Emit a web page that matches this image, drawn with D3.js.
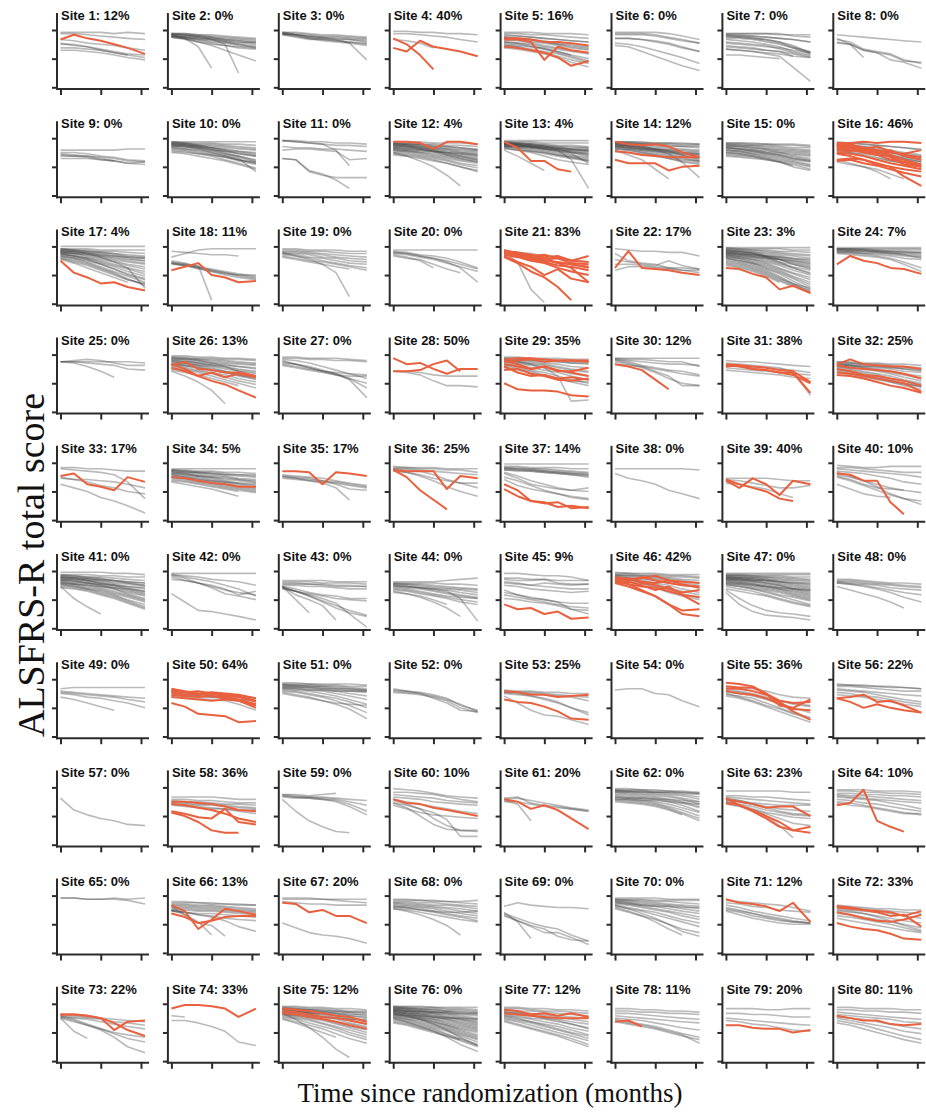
<!DOCTYPE html>
<html><head><meta charset="utf-8">
<script src="https://cdn.jsdelivr.net/npm/d3@7"></script>
<style>body{margin:0;background:#fff}svg{display:block}</style>
</head><body>
<svg id="chart" width="926" height="1119"></svg>
<script>
// ---- data ----
const months = [0, 2, 4, 6, 8, 10, 12.6];
const xTicks = [0, 6, 12];
const yTicks = [0, 24, 48];
const siteIds = [1,2,3,4,5,6,7,8,9,10,11,12,13,14,15,16,17,18,19,20,21,22,23,24,25,26,27,28,29,30,31,32,33,34,35,36,37,38,39,40,41,42,43,44,45,46,47,48,49,50,51,52,53,54,55,56,57,58,59,60,61,62,63,64,65,66,67,68,69,70,71,72,73,74,75,76,77,78,79,80];
const redPct = [12,0,0,40,16,0,0,0, 0,0,0,4,4,12,0,46, 4,11,0,0,83,17,3,7, 0,13,0,50,35,12,38,25, 17,5,17,25,14,0,40,10, 0,0,0,0,9,42,0,0, 0,64,0,0,25,0,36,22, 0,36,0,10,20,0,23,10, 0,13,20,0,0,0,12,33, 22,33,12,0,12,11,20,11];
// one string per site: trajectories separated by "|", "*" = red (treated) patient, values at the months above
const trajectories = [
"*40 44 41 39 36 33 28|46 46 46 46 45 46 45|45 45 44 43 42 41 40|40 39 37 36 35 33 31|36 36 34 32 30 28 27|33 33 32 31 29 27 25|31 31 30 29 27 25 23|37 35 34 31 29 27",
"45 45 44 43 42 41 40|45 44 43 42 41 40 39|44 43 43 42 40 39 38|44 44 43 41 40 39 37|43 42 41 40 39 38 36|43 42 40 39 38 36 35|42 41 40 38 37 35 34|44 43 42 41 39 37 38|45 44 42 40 38 36 33|43 41 38 35 31 27 22|44 41 34 16|43 42 41 40 36 12|42 41 39 37 35 33 32|45 45 44 44 43 42 41|42 40 38 36 35 34 33",
"46 46 45 44 44 43 42|46 45 44 43 43 42 41|45 44 43 42 42 41 40|45 44 42 41 40 40 39|46 44 42 41 41 40 38|44 43 41 40 39 38 37|45 43 41 39 38 37 35|45 44 43 42 40 37 23|44 42 40 40 39 38 36",
"*41 36 27 15|*33 30 39 34 32 30 26|47 47 46 46 45 45 44|45 45 44 43 42 40 38|40 39 37 33",
"*41 41 40 38 38 37 35|*40 40 38 23 34 31 29|*34 33 31 29 25 18 22|46 46 46 45 45 45 44|45 45 44 44 43 42 41|43 43 42 41 40 39 38|42 41 40 39 37 36 34|40 40 38 37 35 33 31|38 37 36 34 32 30 28|36 35 34 33 30 27 24|35 34 31 29 26 23 20|33 32 30 28 25 21 17|38 37 35 32 29 26 22|41 40 39 38 36 35 33|44 43 42 41 40 39 38|37 36 34 32 30 27|35 34 32 30 28 25 21|42 41 40 38 36 34 32|39 39 37 35 33 31 29",
"46 46 46 46 45 43 40|45 45 45 44 42 40 37|44 44 44 43 41 39 37|41 41 40 38 36 33 30|37 36 34 31 28 25 20|35 34 30 26 22 18 14|41 41 40 39 37 34 30",
"45 45 45 45 45 43 42|45 45 45 45 44 44 44|43 43 43 42 41 40 38|42 42 41 40 38 35 29|44 43 42 40 38 34 29|41 41 40 38 36 33 28|40 39 38 36 34 30 27|38 37 36 35 32 29 26|37 36 35 34 33 31 29|35 34 33 31 30 28 25|34 33 32 31 30 26 25|32 31 30 29 28 26|27 27 26 25 24|32 31 30 28 26 17 5|43 42 41 39 37 33 30|44 44 43 42 41 40 38",
"44 43 42 41 40 39 38|41 36 31 29 23 21 16|38 36 25|37 36 31 29 27 22 21|40 38 32 30 28 23 20",
"38 38 38 38 38 39 39|36 36 35 33 32 30 29|34 33 33 32 31 29 28|31 31 31 30 29 27 26|35 34 33 31 29|33 33 32 30 29 27 28",
"45 45 45 45 45 45 45|45 44 44 44 43 43 42|44 44 43 43 42 41 40|44 43 42 42 41 40 39|43 43 42 41 40 39 38|43 42 41 40 39 37 36|42 42 41 40 38 37 35|42 41 40 38 37 35 33|41 41 40 39 37 36 34|41 40 39 37 35 33 30|40 39 37 35 33 30 27|39 38 36 34 32 29 26|44 43 41 39 36 33 29|38 37 35 33 30 27 23|36 35 33 31 29 26 22|43 42 40 38 35 32 28|40 39 38 36 34 31 20|45 44 42 40 38 35 33|37 36 35 34 32 30 27|42 41 39 36 33 30 28",
"46 46 45 45 44 44 43|46 45 44 43 42 42 41|46 45 44 43 38 25|38 39 39 38 37 30 31|31 30 20 17 15 15 15|31 30 21 18 13 6|41 40 40 39 39 38 37",
"*45 45 44 39 45 45 43|45 45 45 44 44 44 43|44 44 43 43 42 42 41|44 43 43 42 41 40 39|43 43 42 41 40 39 38|43 42 41 40 39 38 37|42 42 41 40 39 37 36|42 41 40 39 38 36 35|41 41 40 39 37 36 34|41 40 39 38 36 35 33|40 40 39 37 36 34 32|40 39 38 37 35 33 31|39 38 37 36 34 32 30|39 38 36 35 33 31 29|38 37 36 34 32 30 28|38 37 35 33 31 29 27|37 36 34 32 30 27 25|36 35 33 31 29 26 23|35 34 32 30 27 24 20|36 33 29 24 17 8|34 33 31 29 27 24 21|43 42 40 38 35 33 30|42 41 39 37 34 31 28|44 43 42 41 41 40 38|40 39 38 37 36 35 34",
"*45 40 29 29 22 20|46 46 46 46 46 46 46|45 45 45 44 44 44 44|45 44 44 43 42 42 41|44 44 43 42 41 40 40|44 43 42 41 40 39 38|44 43 42 41 39 38 37|43 42 41 40 39 37 36|43 42 41 39 38 36 35|42 41 40 39 37 36 34|42 41 40 38 36 34 32|41 40 39 37 35 33 31|41 40 38 36 34 32 30|40 39 37 35 33 31 29|45 44 43 41 39 36 33|44 43 41 39 37 35 27|40 38 36 33 30 28 26|38 33 27 21|43 42 41 40 38 30 6|42 41 41 40 39 38 38|43 43 42 41 40 39 39|39 38 37 36 34 32 29|41 41 40 39 38 37 35|44 43 43 42 41 41 40|42 42 41 40 40 39 37",
"*45 43 42 43 41 36 32|*30 27 27 27 21 24 25|*37 36 34 33 32 32 32|45 45 45 44 44 44 43|45 44 44 43 43 42 42|44 44 43 42 41 41 40|44 43 42 41 40 39 38|43 42 41 40 39 38 37|43 42 41 39 38 36 35|42 41 40 38 37 35 34|42 41 39 38 36 34 32|41 40 39 37 35 33 31|41 40 38 36 34 32 29|40 39 37 35 33 31 28|44 43 41 39 37 34 30|39 38 36 34 31 28 26|43 42 40 38 35 28 15|38 34 30 22 14|42 41 40 39 37 36 35|40 39 38 37 36 35 34|37 36 35 33 31 29 27|44 44 43 43 42 41 41|45 45 44 44 44 43 43|41 40 39 39 38 37 36|39 38 36 34 32 30 29",
"44 44 44 43 43 43 42|44 44 43 43 42 42 41|43 43 42 42 41 40 40|43 42 42 41 40 39 38|42 42 41 40 39 38 37|42 41 40 39 38 37 36|41 41 40 39 37 36 35|41 40 39 38 36 35 34|40 39 38 37 36 34 33|40 39 38 36 35 33 31|39 38 37 35 34 32 30|38 37 36 35 33 31 29|38 37 35 34 32 30 28|37 36 35 33 31 29 26|36 35 34 32 30 28 25|35 34 33 31 29 27 24|34 33 32 30 28 26 22|33 32 31 30 28 25|36 35 33 31 28 24 21|40 39 37 36 34 31 29",
"*44 44 45 44 45 45 44|*42 43 40 38 36 35 38|*40 38 36 34 30 28 24|*38 40 37 35 33 28 26|*36 35 33 30 27 25 22|*35 33 30 27 24 16 8|*42 40 38 38 34 30 26|*30 31 30 26 24 22 20|*40 42 37 38 32 26 24|*38 37 40 36 38 33 30|*43 41 39 41 37 34 32|*29 30 27 25 22 19 16|44 44 43 42 41 40 39|43 42 41 40 38 36 34|42 41 40 38 36 34 32|41 40 39 37 35 33 30|40 39 37 35 33 31 29|39 38 36 34 32 30 28|38 36 34 32 29 27|30 27 24 20 14|28 26 24 22 18 14|45 44 43 42 41 40 38|43 42 41 39 37 35 33|41 40 38 36 34 31 28|37 36 35 34 33 32 31|36 35 33 31 29 27 25",
"*36 26 22 17 18 14 11|48 48 48 48 48 48 48|46 46 46 45 45 45 45|46 45 45 44 44 43 42|45 45 44 43 42 41 40|45 44 43 42 41 39 38|44 44 43 41 40 38 36|44 43 42 40 38 36 34|43 42 41 39 37 35 33|43 42 40 38 36 33 31|42 41 39 37 35 32 29|42 40 38 36 33 30 27|41 40 38 35 32 29 25|41 39 37 34 31 27 23|40 38 36 33 29 25 21|40 38 35 31 27 23 18|39 37 34 30 26 21 15|45 44 42 39 35 30 13|38 35 32 28 24 20 17|37 34 30 26 22 18|44 43 42 41 40 39 38|43 42 41 40 39 37 36|46 45 44 43 42 40 39|38 36 33 29 25 20 16|42 40 37 33 29 24 20",
"*28 31 34 24 22 18 19|39 42 45 46 46 46 46|44 43 42 41 41 40|35 33 30 27 25 24 24|34 32 30 28 26 24 22|33 32 29 27 24 22 20|34 32 31 28 26 23 21|34 33 32 3|36 34 31 29 27 25 23",
"46 46 45 45 45 44 44|45 45 44 44 43 42 42|44 44 43 42 41 40 39|43 43 42 41 39 38 37|42 42 41 39 38 36 35|42 41 39 38 36 34 33|41 40 38 36 34 32 30|40 38 36 35 33 31 28|43 40 37 33 26 6|39 37 35 33 31 29",
"45 45 45 45 45 45 45|44 43 41 40 38 35 30|43 42 40 38 36 33 29|42 41 39 37 34 31 27|41 39 36 30|40 38 37 33 29 26|43 42 40 38 35 30 18",
"*44 42 40 41 38 36 40|*43 41 38 36 35 33 31|*42 40 37 35 32 31 28|*41 39 36 34 30 27 24|*39 34 27 22 14 3|*40 35 31 24 29 21 18|*43 40 41 37 38 34 33|*44 43 41 39 40 36 35|*41 40 38 37 34 33 30|*45 42 39 38 34 30 18|43 35 12 1|44 43 42 40 39 37 35",
"*30 44 30 29 28 26 24|46 45 44 44 43 43 40|42 36 34 33 30 30 29|37 35 33 32 36 32 29|33 33 32 31 30 28 26|28 31 31 30 29 28 28",
"*30 29 25 22 12 15 9|47 47 47 47 47 47 47|47 46 46 46 46 45 45|46 46 45 45 44 44 43|46 45 45 44 43 42 41|45 45 44 43 42 41 40|45 44 43 42 41 40 38|44 44 43 41 40 38 36|44 43 42 40 39 37 35|43 42 41 40 38 36 33|43 42 40 39 37 34 31|42 41 40 38 35 33 30|42 41 39 37 34 31 28|41 40 38 36 33 30 26|41 39 37 35 32 28 24|40 39 37 34 30 26 22|40 38 36 33 29 25 20|39 38 35 32 28 23 18|39 37 34 31 27 22 16|38 36 34 30 26 21 14|38 36 33 29 25 19 12|37 35 32 28 23 17 10|36 34 31 27 22 16 11|35 33 30 26 21 17 13|34 32 29 25 20 15 9|33 31 28 24 19 14|32 30 27 23 18|44 43 42 40 37 33 29|43 42 41 39 37 35 32|42 41 41 40 39 38 37|41 40 39 38 37 36 34|45 44 42 39 35 30 25",
"*33 40 36 34 30 29 25|47 47 47 47 47 47 47|46 46 46 46 46 46 46|46 46 46 45 45 45 45|46 45 45 45 44 44 43|45 45 44 44 43 43 42|45 44 44 43 42 42 41|44 44 43 43 42 41 40|44 43 42 42 41 40 39|43 43 42 41 40 38 37|43 42 41 40 38 35 30|42 41 40 39 37 33 27|45 45 45 44 44 43 43|46 46 45 44 43 41 38",
"42 42 42 42 42 42 41|42 43 44 43 41 39 39|42 42 41 40 39 36 35|42 41 38 34 29",
"*39 42 36 35 33 33 30|*37 34 30 26 23 18 12|*40 36 30 33 29 32 29|47 47 46 46 45 45 44|46 46 45 45 44 44 43|45 45 44 44 43 42 41|44 44 43 42 41 40 39|43 42 42 41 40 38 36|42 41 40 39 38 36 34|41 40 39 38 36 34 32|40 39 38 36 34 32 30|39 38 37 35 33 30 28|38 37 35 33 31 28 25|37 36 34 32 29 26 23|36 35 33 30 27 24 20|35 33 31 28 25 22|34 30 25 18 7|45 44 43 41 38 34 30|44 43 41 39 37 35 33|43 42 41 40 39 38 37|42 41 39 37 34 31 27|46 45 44 43 42 41 40|40 39 37 35 33 31 29",
"46 46 45 45 45 44 43|45 45 44 44 43 43 42|43 40 37 34 31 30 30|41 40 37 34 33 32 31|42 40 38 35 32 27 12|40 38 36 34 32 28 20|39 37 35 33 31 28 24|44 43 41 38 35 32 28",
"*45 40 41 36 32 36 36|*34 34 35 40 43 34|34 34 33 31 30 30 30|34 33 31 26 22 22 21",
"*44 45 45 44 43 43 43|*42 43 44 42 43 43 42|*40 38 36 38 35 33 30|*38 33 30 31 28 29 27|*35 36 32 30 27 26 28|*24 19 18 18 17 14 13|*43 40 36 38 34 34 37|46 46 45 45 45 44 44|45 45 44 44 43 42 42|44 44 43 42 42 41 40|43 42 42 41 40 38 37|42 41 40 39 37 35 33|41 40 39 37 35 32 30|40 39 37 35 33 30 27|39 37 35 33 30 27 24|38 36 34 31 28 25 22|43 42 41 40 38 36 34|44 42 40 37 30 9 10|37 35 33 30 28 26 25|45 44 43 43 42 41 41",
"*40 38 35 27 19|45 45 45 45 45 45 45|45 44 44 43 42 42 38|44 43 42 41 40 40 39|44 42 39 37 35 34 31|43 41 38 34 30 22 22|42 40 37 33 28 24 22|40 39 38 36 34 32 30",
"*40 39 38 37 35 34 25|*39 38 36 35 33 33 16|*38 39 36 35 33 31 24|43 42 42 41 40 39 38|41 40 39 38 37 33 14|35 34 33 32 31 29 28|37 36 35 34 33 32 31|39 38 37 37 36 35 33",
"*40 44 40 39 38 38 36|*39 37 36 35 34 32 28|*36 34 31 30 28 26 22|*33 32 30 28 26 24 17|*31 30 28 25 22 20 16|42 42 41 41 40 40 39|41 41 40 40 39 38 37|41 40 39 38 37 36 35|40 39 38 37 36 34 33|40 39 37 36 34 32 30|39 38 37 35 33 31 28|38 37 36 34 32 29 26|38 36 34 32 30 27 24|37 35 33 31 28 26 23|36 34 32 29 27 24 21|35 33 31 28 25 22 19|34 32 30 28 26 24 22|39 39 38 38 37 37 36|42 41 40 39 38 36 34|33 31 29 27 25 23 21",
"*37 39 30 28 25 36 32|44 44 43 43 42 41 41|43 42 41 40 38 32 18|35 34 34 33 32 30 27|30 27 24 19 16 12 6|36 34 32 29 27 24 22",
"*36 35 33 31 30 28 28|43 43 43 43 43 43 43|42 42 41 41 40 40 39|42 41 40 40 39 38 37|41 40 40 39 38 37 36|41 40 39 38 37 35 34|40 39 38 37 36 34 32|40 39 37 36 34 33 31|39 38 37 35 33 31 29|38 37 36 34 32 30 28|38 36 35 33 31 29 27|37 36 34 32 30 28 26|36 35 33 31 29 27 25|35 34 32 30 28 26 24|34 33 31 29 27 25 23|33 32 30 28 26 24|32 30 28 26 23 20|42 41 40 39 38 38 38|39 38 37 36 35 34 33|36 35 34 33 32 31 30",
"*41 41 40 30 40 39 37|38 37 36 35 33 31 29|37 36 35 33 32 30 28|37 35 33 31 27 17|35 34 33 32 31 29 27|36 35 34 33 30 26 25",
"*42 41 41 41 26 37 35|*42 36 25 17 9|45 44 44 44 43 43 43|44 44 43 43 42 42 40|43 43 42 41 40 39 38|43 42 41 38 34 31 27|42 40 37 33 28 24 20|41 40 38 35 33 31 31",
"*30 25 16 15 11 12 10|*26 20 16 14 15 10 11|47 47 47 47 47 47 47|45 45 44 44 44 43 43|44 44 43 43 42 41 40|44 43 43 42 41 40 39|43 43 42 41 40 39 38|43 42 42 41 40 39 38|42 42 41 40 39 38 37|42 41 41 40 39 38 36|39 35 30 28 26 25 27|36 33 29 25 22 19 17|34 29 26 24 22 20 18|40 37 33 30 27 25 24",
"43 43 43 43 43 43 42|39 35 33 30 25 22 18",
"*33 27 35 30 21 33 30|*34 30 27 24 18 16|35 35 35 35 34 33 33|31 30 28 26 22 19|34 33 31 29 27 27 29",
"*39 38 33 33 15 5|46 45 44 44 45 45 45|44 44 43 42 41 40 40|43 42 41 40 39 38 36|41 40 39 37 35 32 30|40 37 33 28 22 18 13|37 34 30 27 26 25|30 26 22 20 19|38 36 33 30 27 25 23|36 33 29 25 21 18 16",
"47 47 47 47 46 46 45|45 45 45 44 44 43 43|44 44 43 43 42 41 40|43 43 42 41 40 39 38|43 42 41 40 39 38 36|42 42 41 40 38 37 35|42 41 40 39 37 35 33|41 41 40 38 36 34 31|41 40 39 37 35 32 29|40 39 38 36 34 31 28|39 38 37 35 33 30 27|39 37 36 34 31 28 24|38 37 35 33 30 27 23|37 36 34 32 29 26 22|37 35 33 31 28 24 20|36 35 33 30 27 23 18|35 34 32 29 26 22 17|34 33 31 28 25 21 16|40 39 38 37 36 35 34|38 37 36 35 34 33 31|35 25 18 12|43 42 40 38 36 33 30|44 43 42 41 40 39 38|45 44 43 42 40 38 36|41 40 38 36 33 29 25",
"46 46 46 46 46 46 46|45 44 43 41 40 39 36|45 43 41 39 36 33 27|43 40 38 36 33 28 31|44 42 38 35 32 30 28|29 22 15 14 12 10 7|41 40 38 34 29 27 24",
"40 40 40 40 39 39 39|39 39 39 38 38 38 37|38 38 37 37 36 36 35|37 37 37 36 35 35 35|36 36 35 35 34 33 33|35 33 30 28 27 25 25|35 31 27 23 19 15 11|35 24 13|34 31 27 22 17 13 10|35 28 24 19 7|34 31 28 25 21 12 1|33 31 29 27 25 24 23",
"39 39 39 39 40 41 42|38 38 38 38 37 37 36|38 37 37 36 35 34 33|37 37 36 35 34 33 32|37 36 35 34 33 32 30|36 35 34 33 32 30 28|35 35 34 32 30 28 26|35 34 33 31 29 27 25|34 33 31 29 27 26 25|33 32 30 28 26 24 22|32 31 29 27 25 22 20|31 29 26 22 17 10|30 29 27 24 20|36 35 34 33 31 25 6",
"*20 16 17 12 14 8 9|46 46 45 44 44 43 40|42 42 41 41 40 40 40|41 40 40 41 38 37 37|39 38 36 38 37 36 37|38 37 36 35 34 33 33|36 35 33 32 31 30 31|32 28 25 24 22 21 21|30 28 26 24 22 16 12|28 26 24 22 20 18 17|25 24 22 21 19 16 15",
"*42 41 42 44 40 39 38|*41 40 43 40 38 36 35|*40 42 38 36 33 30 32|*39 37 35 34 31 28 26|*38 39 36 32 35 28 20|*40 37 32 27 20 15 16|*43 41 39 38 40 37 34|*38 35 31 27 20 12 10|47 46 46 46 45 45 45|46 46 45 45 44 44 43|45 45 44 44 43 43 42|45 44 44 43 42 41 40|44 44 43 42 41 40 38|44 43 42 41 40 38 36|43 42 41 40 38 36 34|43 42 40 38 36 33 30|42 41 39 37 34 31 28|41 40 38 35 32 29 26|40 39 37 34 30 27 24",
"46 46 46 46 46 46 46|45 45 45 45 45 45 45|45 45 44 44 44 43 43|44 44 44 43 43 42 41|44 44 43 43 42 41 40|44 43 43 42 41 40 39|43 43 42 41 40 39 37|43 42 42 41 39 38 36|43 42 41 40 39 37 35|42 42 41 40 38 36 34|42 41 40 39 37 35 33|42 41 40 38 36 34 32|41 40 39 38 36 33 31|41 40 39 37 35 33 30|40 39 38 36 34 32 29|40 39 37 35 33 31 28|39 38 37 35 33 30 27|39 38 36 34 32 29 26|38 37 35 33 31 28 25|37 36 34 32 30 27 24|36 35 33 31 28 26 23|35 33 31 28 25 22 19|30 20 14 11 10 9 7|32 25 19 15 13 12 10|37 35 33 30 27 24 20|33 31 29 27 24 21 18|38 37 36 35 34 33 32|41 41 40 40 39 38 38",
"41 41 40 39 38 38 37|40 40 39 38 37 36 35|39 39 38 37 36 35 34|39 38 37 36 34 33 32|38 37 36 34 32 30 28|35 32 29 26 22 17|38 37 35 33 30 26 22",
"40 41 41 41 41 41 41|38 37 36 35 34 33 32|36 35 33 32 30 28 24|33 31 28 25 22|37 36 35 34 33 31 29",
"*40 38 36 37 36 35 32|*39 37 38 36 35 34 30|*38 37 35 36 34 33 29|*37 35 36 34 33 31 27|*35 34 33 34 32 30 26|*33 32 31 30 31 30 24|*28 25 19 18 17 12 13|37 36 35 35 34 33 32|36 35 34 33 32 31 30|34 33 32 31 30 27 22|35 34 34 33 32 31 30",
"45 45 44 44 44 44 43|44 44 44 43 43 42 42|44 43 43 42 42 41 40|43 43 42 42 41 40 39|43 42 42 41 40 39 38|42 42 41 40 39 38 37|42 41 40 39 38 36 34|41 40 39 38 36 34 31|40 39 38 36 34 31 27|39 38 36 34 32 29 24|38 37 35 33 30 26 20|37 35 33 30 27 23 15|36 34 32 30 28 27 26|40 40 39 39 38 38 38|41 41 41 40 40 40 39",
"40 38 36 32 28 22 21|39 38 37 35 32 26 22|38 37 36 34 31 27 21|37 36 35 33 30 24 20",
"*38 37 35 35 33 34 35|*31 29 28 25 21 15 14|39 38 38 37 37 36 36|38 37 37 36 35 34 33|37 37 36 35 34 33 30|36 35 34 32 29 24 18|34 28 22 18 17 14 10|37 36 34 31 28 24 20",
"39 40 40 36 35 30 25",
"*45 44 42 36 26 24 31|*42 41 41 36 30 28 29|*40 40 38 35 29 21 14|*38 36 35 32 27 23 22|41 40 40 38 35 33 32|39 38 36 33 30 28 26|37 36 34 31 28 24 20|35 34 32 28 24 20 16|36 33 30 26 23 19 15|34 32 29 25 21 17 12|38 37 35 32 30 27 25",
"*32 33 35 29 30 26 20|*32 29 24 27 24 22 20|44 43 43 42 42 41 40|43 43 42 42 41 41 40|42 42 41 40 39 38 38|40 39 38 37 36 35 34|39 38 37 35 33 31 29|37 36 34 33 31 29 27|35 34 33 31 29 27 25",
"39 29 25 22 20 17 16",
"*36 36 35 34 32 29 28|*34 33 31 29 26 22 19|*28 26 23 22 30 19 17|*27 24 19 12 10 10|40 40 40 40 39 38 38|38 38 37 37 36 35 35|37 36 36 35 34 34 33|36 35 34 34 33 32 31|35 34 33 33 32 31 30|33 32 31 30 30 29 29|34 33 32 31 30 28 26",
"42 42 41 42 43|42 41 40 40 39 38 37|41 40 40 39 38 36 33|41 40 39 38 37 34 28|40 39 39 38 36 32 25|38 28 20 15 11 10",
"*38 35 34 31 29 27 24|47 46 45 43 41 40 39|44 44 43 42 40 38 36|42 41 40 39 37 36 35|35 31 24 17 13 12 12|37 34 30 22 16 12 11|35 33 30 27 21 7 7|33 30 27 25 24 23 22|40 39 38 36 35 34 33|38 36 34 32 30 28 26",
"*38 36 30 33 29 22 13|39 40 35 33 32 30 28|38 39 37 35 33 31 29|37 34 20|36 36 34 32 31 30 28",
"47 47 46 46 45 45 44|46 46 46 45 45 44 43|46 45 45 44 44 43 42|45 45 44 44 43 42 40|45 44 44 43 42 41 38|44 44 43 42 41 39 36|44 43 42 41 40 38 34|43 42 41 40 38 36 32|42 41 40 39 37 35 31|41 40 39 38 36 33 28|40 39 38 36 34 31 27|39 38 37 35 32 29 24|38 37 36 34 31 27 22|37 36 35 33 30 26 20|36 35 34 32 29 25|40 39 39 38 38 37 36|38 38 37 37 36 35 34|45 45 45 44 44 44 43",
"*38 36 34 31 32 32 24|*35 33 28 22 15 12 15|*39 33 29 24 19 12 10|45 45 45 45 45 44 44|41 41 40 40 39 38 37|40 39 38 37 36 35 34|38 37 35 34 33 33 33|37 36 34 32 30 29 28|36 34 32 29 27 25 24|35 33 30 27 25 23 22|34 32 29 26 22 18 16|36 33 29 24 16 6|39 37 34 31 28 26 25",
"*33 35 46 20 15 11|46 46 46 45 45 45 44|45 45 44 44 43 43 42|43 43 42 42 41 41 40|42 41 41 40 39 38 37|41 40 39 38 37 36 35|40 39 38 37 35 33 30|38 37 35 34 32 30 28|36 35 33 31 29 27 25|35 33 32 30 28 26 26",
"46 46 45 45 46 45 46|46 46 45 45 45 44 41",
"*40 35 20 28 37 35 32|*33 30 25 27 30 31 31|43 43 42 42 41 41 40|42 42 42 41 41 40 40|41 41 40 40 39 38 37|40 40 39 39 38 37 36|39 39 38 38 37 36 35|38 38 37 37 36 35 34|37 37 36 36 35 34 33|36 36 35 35 34 33 32|35 34 33 33 32 31 30|39 32 25 23 14|36 34 32 30 27 22 18|36 32 26 15|35 34 32 31 29 28 27",
"*42 41 34 36 31 31 25|46 46 46 45 45 45 45|45 45 45 45 44 43 42|25 21 17 15 14 12 8|43 42 41 41 40 40 40",
"45 45 44 44 43 43 44|44 44 44 43 43 42 41|43 43 42 42 41 40 39|42 42 41 40 40 39 37|42 41 40 39 38 37 35|41 40 39 38 37 35 33|40 39 38 37 35 33 31|39 38 37 35 33 31 29|38 37 36 34 32 30 27|37 36 34 32 30 28 26|37 35 32 28 23 15|39 38 36 35 34 34 35",
"39 42 40 39 38 38 37|33 29 25 22 20 15 10|32 27 22 17 17 13 7|34 26 12|31 27 23 20 14 11 10",
"46 46 46 46 45 45 45|45 45 45 44 44 44 44|45 44 44 43 43 42 41|44 44 43 42 41 40 39|44 43 42 41 40 39 37|43 42 41 40 39 37 35|43 42 40 39 37 35 33|42 41 39 37 35 33 30|41 40 38 36 34 31 28|40 38 36 34 31 28 25|39 37 35 32 29 26 22|38 35 31 26 20 15|40 37 33 29 24 18 14|37 34 31 28 24 20 17|42 41 40 39 39 38 38",
"*45 42 41 39 35 42 26|44 43 42 41 40 38 35|42 41 39 38 36 35 34|40 38 35 33 31 29 27|37 35 33 30 28 26 25|35 32 29 27 25 24 24|38 36 33 31 29 27 25|36 34 31 29 27 26 25",
"*39 38 36 35 34 31 35|*38 37 36 34 31 32 22|*34 32 29 27 26 28 32|*25 22 20 19 16 12 11|40 39 38 37 37 36 36|39 38 37 36 35 34 33|37 36 35 34 33 31 29|35 34 33 31 29 27 25|33 32 30 28 26 24 21|31 30 28 26 24 21 18|29 27 25 23 21 19 17|36 35 33 30 27 23 19",
"*39 39 38 36 26 33 34|*39 39 38 36 32 26 21|39 38 37 36 35 34 33|38 37 36 35 33 32 30|37 36 35 33 31 29 27|36 33 30 27 24 22 20|38 35 31 27 23 19 16|36 25 19|37 34 30 26 20 12 7",
"*44 47 47 46 44 37 44|34 34 32 29 25 16 13|38 37",
"*44 43 42 40 38 37 33|*42 41 39 37 36 34 31|*40 39 37 35 33 30 27|46 46 45 45 44 44 43|45 45 44 44 43 42 42|45 44 43 43 42 41 40|44 44 43 42 41 40 38|44 43 42 41 40 38 36|43 42 41 40 38 36 34|43 42 40 39 37 35 33|42 41 40 38 36 34 31|42 40 39 37 35 32 29|41 40 38 36 33 31 28|40 39 37 35 32 29 26|40 38 36 34 31 28 24|39 37 35 32 29 26 22|38 36 34 31 28 24 20|37 35 32 29 26 22 18|36 33 30 27 23 19 15|40 35 28 20 10 3|35 32 28 24 20|44 43 43 42 42 41 41|41 41 40 40 39 38 37|39 38 38 37 36 35 35|43 42 41 41 40 39 39",
"46 46 46 45 45 45 45|46 45 45 45 44 44 43|45 45 44 44 43 43 42|45 44 44 43 42 42 41|45 44 43 43 42 41 40|44 44 43 42 41 40 39|44 43 42 41 40 39 38|44 43 42 41 40 38 36|43 42 41 40 39 37 35|43 42 41 40 38 36 34|43 42 40 39 37 35 33|42 41 40 38 37 35 32|42 41 39 38 36 34 31|42 40 39 37 35 33 30|41 40 38 37 35 32 29|41 40 38 36 34 31 28|41 39 37 35 33 30 27|40 39 37 35 32 29 26|40 38 36 34 31 28 25|39 38 36 33 30 27 24|39 37 35 33 30 26 22|38 37 35 32 29 25 21|38 36 34 31 28 24 20|37 35 33 30 27 23 19|37 35 32 29 26 22 18|36 34 31 28 25 21 16|35 33 30 27 23 19 14|34 32 29 26 22 18 13|33 31 28 25 21 17 12|36 33 29 25 20 14 8|40 38 35 31 26 20 13|32 30 27 24 21 18|43 42 42 41 41 40 40|39 38 38 37 36 36 35",
"*43 42 39 40 38 40 37|*40 39 38 37 36 36 36|45 45 44 44 43 43 42|44 44 43 42 42 41 40|43 42 42 41 40 39 38|42 41 40 39 38 37 36|41 40 39 38 37 35 33|40 39 38 36 35 33 31|39 38 36 35 33 31 28|38 37 35 33 31 28 25|37 35 33 31 29 26 22|36 34 32 29 26 23 19|35 33 30 27 24 21 17|34 31 28 25 22 19 14|33 30 27 24 21 17 12|38 36 33 30 27 24 21|41 40 38 36 34 31 27",
"*33 34 29|44 44 43 43 42 42 41|42 42 41 41 40 40 39|40 40 39 38 37 36 35|38 37 36 35 34 33 32|36 35 34 32 30 28 26|35 33 31 29 26 23 20|33 31 29 27 24 21 18|34 32 30 28 25 22 15",
"*30 30 28 27 27 24 26|44 44 44 43 43 44 44|40 40 39 39 38 37 37|36 35 34 33 32 31 30|34 33 31 30 28 26 25",
"*38 36 34 34 31 30 31|45 45 44 44 44 43 43|43 43 42 42 41 41 40|41 40 39 38 37 36 35|39 38 37 36 35 33 32|37 36 35 33 31 29 27|36 34 32 30 28 25 23|34 32 30 27 24 21 18|32 30 27 24 21 18 15"
];

// ---- drawing ----
const svg = d3.select("#chart");
const nCols = 8;
const colStep = 110.9, rowStep = 108.2;
const grayColor = "#4a4a4a", redColor = "#e9603e", axisColor = "#2b2b2b";

const panels = trajectories.map(s => s.split("|").map(str => {
  const red = str[0] === "*";
  const vals = (red ? str.slice(1) : str).trim().split(/\s+/).map(Number);
  return { red, pts: vals.map((v, j) => ({ t: months[j], v })) };
}));

panels.forEach((lines, i) => {
  const c = i % nCols, r = Math.floor(i / nCols);
  const ax = 57 + colStep * c;
  const top = 30 + rowStep * r;
  const x = d3.scaleLinear().domain([0, 12]).range([ax + 3.5, ax + 84]);
  const y = d3.scaleLinear().domain([0, 48]).range([top + 57.3, top]);
  const baseY = top + 59;
  const g = svg.append("g");

  // title
  g.append("text").attr("x", ax + 4).attr("y", top - 10)
    .attr("font-family", "'Liberation Sans', Arial, sans-serif")
    .attr("font-weight", "bold").attr("font-size", 13).attr("fill", "#111")
    .text(`Site ${siteIds[i]}: ${redPct[i]}%`);

  const line = d3.line().x(d => x(d.t)).y(d => y(d.v));
  const grays = lines.filter(l => !l.red), reds = lines.filter(l => l.red);
  g.selectAll("path.g").data(grays).enter().append("path")
    .attr("d", d => line(d.pts)).attr("fill", "none")
    .attr("stroke", grayColor).attr("stroke-opacity", 0.38)
    .attr("stroke-width", 1.6).attr("stroke-linejoin", "round");
  g.selectAll("path.r").data(reds).enter().append("path")
    .attr("d", d => line(d.pts)).attr("fill", "none")
    .attr("stroke", redColor).attr("stroke-width", 2)
    .attr("stroke-linejoin", "round");

  // L-shaped frame
  g.append("line").attr("x1", ax).attr("x2", ax).attr("y1", top - 17).attr("y2", baseY + 1)
    .attr("stroke", axisColor).attr("stroke-width", 2);
  g.append("line").attr("x1", ax - 1).attr("x2", ax + 92).attr("y1", baseY).attr("y2", baseY)
    .attr("stroke", axisColor).attr("stroke-width", 2);

  // ticks via d3 axes
  const ya = g.append("g").attr("transform", `translate(${ax},0)`)
    .call(d3.axisLeft(y).tickValues(yTicks).tickSize(5).tickFormat(""));
  ya.select(".domain").remove();
  ya.selectAll("line").attr("stroke", axisColor).attr("stroke-width", 2);
  const xa = g.append("g").attr("transform", `translate(0,${baseY})`)
    .call(d3.axisBottom(x).tickValues(xTicks).tickSize(6).tickFormat(""));
  xa.select(".domain").remove();
  xa.selectAll("line").attr("stroke", axisColor).attr("stroke-width", 2);
});

// axis titles
svg.append("text").attr("transform", "translate(44,565) rotate(-90)")
  .attr("text-anchor", "middle")
  .attr("font-family", "'Liberation Serif', 'Times New Roman', serif")
  .attr("font-size", 38).attr("fill", "#111")
  .text("ALSFRS-R total score");
svg.append("text").attr("x", 490).attr("y", 1102)
  .attr("text-anchor", "middle")
  .attr("font-family", "'Liberation Serif', 'Times New Roman', serif")
  .attr("font-size", 27).attr("fill", "#111")
  .text("Time since randomization (months)");
</script>
</body></html>
